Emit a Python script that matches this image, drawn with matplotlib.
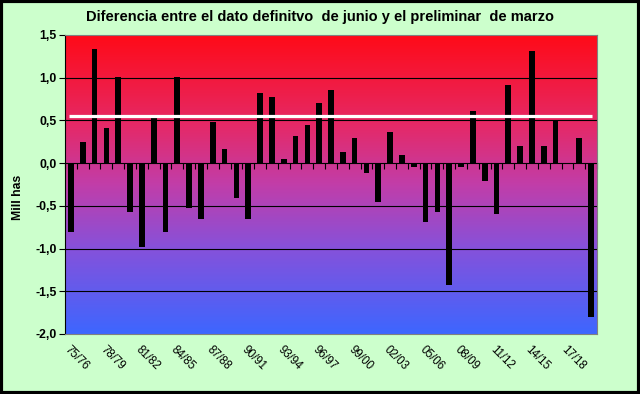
import numpy as np
import matplotlib
matplotlib.use("Agg")
import matplotlib.pyplot as plt
from matplotlib.colors import LinearSegmentedColormap

seasons = [f"{(75 + i) % 100:02d}/{(76 + i) % 100:02d}" for i in range(45)]
values = [-0.81, 0.25, 1.34, 0.41, 1.01, -0.57, -0.98, 0.53, -0.81, 1.01,
          -0.53, -0.65, 0.48, 0.17, -0.41, -0.65, 0.82, 0.77, 0.05, 0.32,
          0.45, 0.70, 0.86, 0.125, 0.29, -0.12, -0.45, 0.37, 0.09, -0.04,
          -0.69, -0.57, -1.43, -0.04, 0.61, -0.21, -0.60, 0.91, 0.20, 1.31,
          0.20, 0.51, 0.0, 0.30, -1.80]
ref_value = 0.555
title = "Diferencia entre el dato definitvo  de junio y el preliminar  de marzo"
ylabel = "Mill has"
yticks = [1.5, 1.0, 0.5, 0.0, -0.5, -1.0, -1.5, -2.0]
grid_levels = [1.0, 0.5, -0.5, -1.0, -1.5]

plt.rcParams['font.family'] = ['Liberation Sans', 'DejaVu Sans']

fig = plt.figure(figsize=(6.4, 3.94), dpi=100, facecolor='#CCFFCC')
ax = fig.add_axes([0.1016, 0.1523, 0.8312, 0.7589])

n = len(values)
x = np.arange(n)
ax.set_xlim(-0.5, n - 0.5)
ax.set_ylim(-2.0, 1.5)

# gradient background
cmap = LinearSegmentedColormap.from_list("grad", [
    (0.0, (1.0, 0.04, 0.09)),
    (0.30, (0.90, 0.16, 0.40)),
    (0.50, (0.76, 0.24, 0.66)),
    (0.72, (0.52, 0.32, 0.86)),
    (1.0, (0.24, 0.40, 1.0)),
])
grad = np.linspace(0, 1, 256).reshape(-1, 1)
ax.imshow(grad, cmap=cmap, aspect='auto', extent=(-0.5, n - 0.5, -2.0, 1.5),
          origin='upper', zorder=0)

for g in grid_levels:
    ax.axhline(g, color='black', lw=0.8, zorder=1)

ax.bar(x, values, width=0.48, color='black', zorder=2)
ax.hlines(ref_value, -0.15, n - 0.9, color='white', lw=2.3, zorder=3)

# zero axis with ticks between categories (pointing down)
sec = ax.secondary_xaxis(2.0 / 3.5)
sec.set_xticks(np.arange(n + 1) - 0.5)
sec.set_xticklabels([])
sec.tick_params(direction='in', length=4, width=0.8, color='black')
sec.spines['bottom'].set_color('black')
sec.spines['bottom'].set_linewidth(0.9)

ax.set_xticks(x[::3])
ax.set_xticklabels(seasons[::3], rotation=-45, ha='left', va='top',
                   rotation_mode='anchor', fontsize=8.3)
ax.tick_params(axis='x', length=0, pad=7)

ax.set_yticks(yticks)
ax.set_yticklabels([f"{v:.1f}".replace('.', ',') for v in yticks],
                   fontsize=8.8, fontweight='bold')
ax.tick_params(axis='y', direction='out', length=4, width=0.8, pad=2)

for s in ['top', 'right', 'bottom']:
    ax.spines[s].set_color('#808080')
    ax.spines[s].set_linewidth(0.8)
ax.spines['left'].set_color('black')
ax.spines['left'].set_linewidth(0.8)

fig.text(0.028, 0.5, ylabel, rotation=90, ha='center', va='center',
         fontsize=8.8, fontweight='bold')
fig.text(0.5, 0.956, title, ha='center', va='center', fontsize=10.5,
         fontweight='bold')

# black frame around figure
frame = plt.Rectangle((0.002, 0.003), 0.996, 0.994, transform=fig.transFigure,
                      fill=False, edgecolor='black', lw=3)
fig.patches.append(frame)

fig.savefig("out.png", dpi=100, facecolor=fig.get_facecolor())
